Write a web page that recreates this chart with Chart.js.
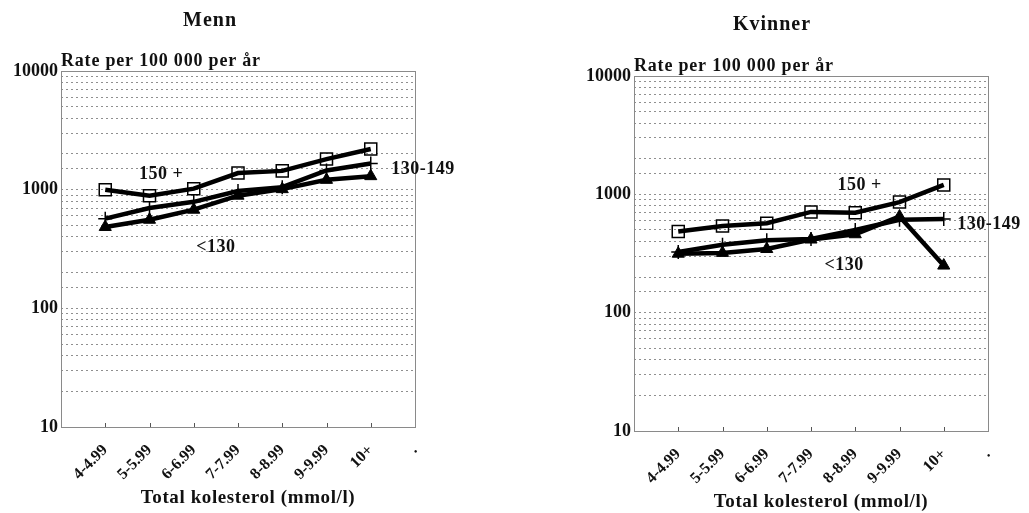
<!DOCTYPE html>
<html>
<head>
<meta charset="utf-8">
<script src="https://cdn.jsdelivr.net/npm/chart.js@4.4.0/dist/chart.umd.min.js"></script>
<style>
  html, body { margin: 0; padding: 0; background: #fff; }
  #wrap { display: flex; width: 1029px; height: 513px; }
</style>
</head>
<body>
<div id="wrap">
  <canvas id="menn" width="514" height="513"></canvas>
  <canvas id="kvinner" width="515" height="513"></canvas>
</div>
<script>
const categories = ['4-4.99', '5-5.99', '6-6.99', '7-7.99', '8-8.99', '9-9.99', '10+'];
const tickLabels = ['', ...categories, '.'];
const yTicks = [10, 100, 1000, 10000];

// Menn
const menn150 = [1000, 890, 1020, 1380, 1440, 1810, 2200];
const menn130_149 = [570, 700, 790, 975, 1050, 1450, 1660];
const mennUnder130 = [485, 558, 678, 890, 1010, 1210, 1300];

// Kvinner
const kvinner150 = [485, 540, 570, 710, 700, 860, 1200];
const kvinner130_149 = [325, 375, 410, 420, 500, 610, 620];
const kvinnerUnder130 = [315, 320, 345, 415, 460, 650, 250];

const FONT = '"Liberation Serif", "Times New Roman", serif';

function toPoints(values) {
  return values.map((v, i) => ({ x: i + 1, y: v }));
}

// frame, inward ticks and all the captions
const textPlugin = {
  id: 'texts',
  beforeDatasetsDraw(chart) {
    const { ctx, chartArea: a, scales } = chart;
    ctx.save();
    ctx.strokeStyle = '#8a8a8a';
    ctx.lineWidth = 1;
    ctx.strokeRect(a.left + 0.5, a.top + 0.5, a.width, a.height);
    ctx.strokeStyle = '#555';
    for (let i = 1; i <= categories.length; i++) {
      const x = Math.round(scales.x.getPixelForValue(i)) + 0.5;
      ctx.beginPath();
      ctx.moveTo(x, a.bottom);
      ctx.lineTo(x, a.bottom - 4);
      ctx.stroke();
    }
    ctx.restore();
  },
  afterDatasetsDraw(chart, args, opts) {
    const { ctx, chartArea: a, scales } = chart;
    ctx.save();
    ctx.fillStyle = '#111';

    ctx.font = 'bold 20px ' + FONT;
    ctx.letterSpacing = '1px';
    ctx.textAlign = 'center';
    ctx.textBaseline = 'middle';
    ctx.fillText(opts.title, opts.titleX, opts.titleY);

    ctx.font = 'bold 18px ' + FONT;
    ctx.letterSpacing = '0.8px';
    ctx.textAlign = 'left';
    ctx.textBaseline = 'alphabetic';
    ctx.fillText('Rate per 100 000 per år', a.left, a.top - 5);

    ctx.font = 'bold 19px ' + FONT;
    ctx.letterSpacing = '0.6px';
    ctx.textAlign = 'center';
    ctx.textBaseline = 'middle';
    ctx.fillText('Total kolesterol (mmol/l)', (a.left + a.right) / 2 + 10, a.bottom + 71);

    ctx.font = 'bold 18px ' + FONT;
    ctx.letterSpacing = '0.5px';
    opts.notes.forEach(n => {
      ctx.fillText(n.text, scales.x.getPixelForValue(n.x), scales.y.getPixelForValue(n.y));
    });
    ctx.restore();
  }
};

function makeChart(id, series, cfg) {
  const styles = [
    { pointStyle: 'rect', pointRadius: 8.5, pointBackgroundColor: 'rgba(0,0,0,0)', pointBorderWidth: 1.5 },
    { pointStyle: 'cross', pointRadius: 7, pointBackgroundColor: '#000', pointBorderWidth: 1.5 },
    { pointStyle: 'triangle', pointRadius: 7, pointBackgroundColor: '#000', pointBorderWidth: 1 }
  ];
  const names = ['150 +', '130-149', '<130'];

  new Chart(document.getElementById(id), {
    type: 'line',
    data: {
      datasets: series.map((values, k) => Object.assign({
        label: names[k],
        data: toPoints(values),
        borderColor: '#000',
        pointBorderColor: '#000',
        borderWidth: 4.5,
        tension: 0
      }, styles[k]))
    },
    options: {
      responsive: false,
      animation: false,
      layout: { padding: { top: cfg.top, right: cfg.right, left: 0, bottom: 0 } },
      plugins: {
        legend: { display: false },
        tooltip: { enabled: false },
        texts: { title: cfg.title, titleX: cfg.titleX, titleY: cfg.titleY, notes: cfg.notes }
      },
      scales: {
        x: {
          type: 'linear',
          min: 0,
          max: tickLabels.length - 1,
          afterFit: s => { s.height = cfg.xHeight; },
          grid: { display: false },
          border: { display: false },
          ticks: {
            stepSize: 1,
            autoSkip: false,
            minRotation: 45,
            maxRotation: 45,
            padding: 6,
            color: '#111',
            font: { family: FONT, size: 16, weight: 'bold' },
            callback: v => tickLabels[v] ?? ''
          }
        },
        y: {
          type: 'logarithmic',
          min: 10,
          max: 10000,
          afterFit: s => { s.width = cfg.yWidth; },
          grid: { color: '#8f8f8f', lineWidth: 1, drawTicks: false },
          border: { display: false, dash: [2, 3] },
          ticks: {
            autoSkip: false,
            padding: 3,
            color: '#111',
            font: { family: FONT, size: 18, weight: 'bold' },
            callback: v => yTicks.includes(v) ? String(v) : ''
          }
        }
      }
    },
    plugins: [textPlugin]
  });
}

makeChart('menn', [menn150, menn130_149, mennUnder130], {
  title: 'Menn', titleX: 210, titleY: 21,
  top: 71, right: 99, xHeight: 86, yWidth: 61,
  notes: [
    { text: '150 +', x: 2.26, y: 1355 },
    { text: '130-149', x: 8.18, y: 1494 },
    { text: '<130', x: 3.5, y: 329 }
  ]
});

makeChart('kvinner', [kvinner150, kvinner130_149, kvinnerUnder130], {
  title: 'Kvinner', titleX: 258, titleY: 25,
  top: 76, right: 41, xHeight: 82, yWidth: 120,
  notes: [
    { text: '150 +', x: 5.1, y: 1200 },
    { text: '130-149', x: 8.02, y: 561 },
    { text: '<130', x: 4.75, y: 252 }
  ]
});
</script>
</body>
</html>
